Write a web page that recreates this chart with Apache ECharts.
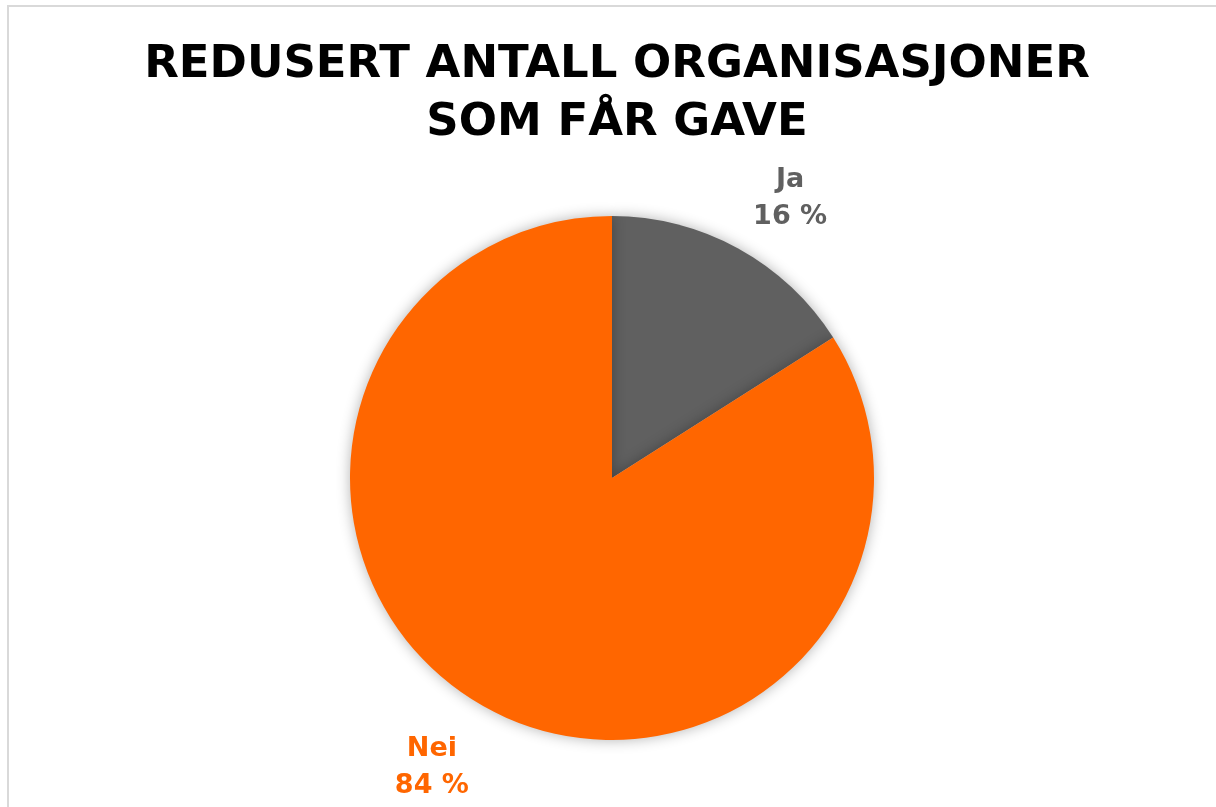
<!DOCTYPE html>
<html>
<head>
  <meta charset="utf-8" />
  <title>Redusert antall organisasjoner</title>
  <script src="https://cdn.jsdelivr.net/npm/echarts@6/dist/echarts.min.js"></script>
  <style>
    html, body { margin: 0; padding: 0; background: #fff; overflow: hidden; }
    #frame { position: absolute; left: 7px; top: 5px; width: 1230px; height: 830px;
             border: 2px solid #d9d9d9; pointer-events: none; }
  </style>
</head>
<body>
<div id="chart" style="width: 1216px;height:807px;"></div>
<div id="frame"></div>
<script type="text/javascript">
  // data
  var categories = ['Ja', 'Nei'];
  var values = [16, 84];
  var colors = ['#606060', '#FF6600'];

  var seriesData = [];
  for (var i = 0; i < categories.length; i++) {
    seriesData.push({
      name: categories[i],
      value: values[i],
      itemStyle: { color: colors[i] },
      label: { color: colors[i] }
    });
  }

  // small nudges so labels sit where the original has them
  var labelShift = [[18, 3], [-20, 7]];

  var chart = echarts.init(document.getElementById('chart'));
  var option = {
    title: {
      text: 'REDUSERT ANTALL ORGANISASJONER\nSOM FÅR GAVE',
      left: 612,
      top: 31,
      textAlign: 'center',
      textStyle: {
        fontFamily: 'DejaVu Sans',
        fontWeight: 'bold',
        fontSize: 45,
        lineHeight: 58,
        color: '#000'
      }
    },
    series: [{
      type: 'pie',
      center: [612, 478],
      radius: 262,
      startAngle: 90,
      clockwise: true,
      data: seriesData,
      itemStyle: {
        shadowBlur: 14,
        shadowColor: 'rgba(0,0,0,0.3)'
      },
      label: {
        show: true,
        position: 'outside',
        formatter: function (p) { return p.name + '\n' + p.value + ' %'; },
        fontFamily: 'DejaVu Sans',
        fontWeight: 'bold',
        fontSize: 27,
        lineHeight: 37
      },
      labelLine: { show: false, length: 60, length2: 0 },
      labelLayout: function (p) {
        var s = labelShift[p.dataIndex];
        return { align: 'center', dx: s[0], dy: s[1] };
      },
      emphasis: { disabled: true }
    }]
  };
  chart.setOption(option);
</script>
</body>
</html>
